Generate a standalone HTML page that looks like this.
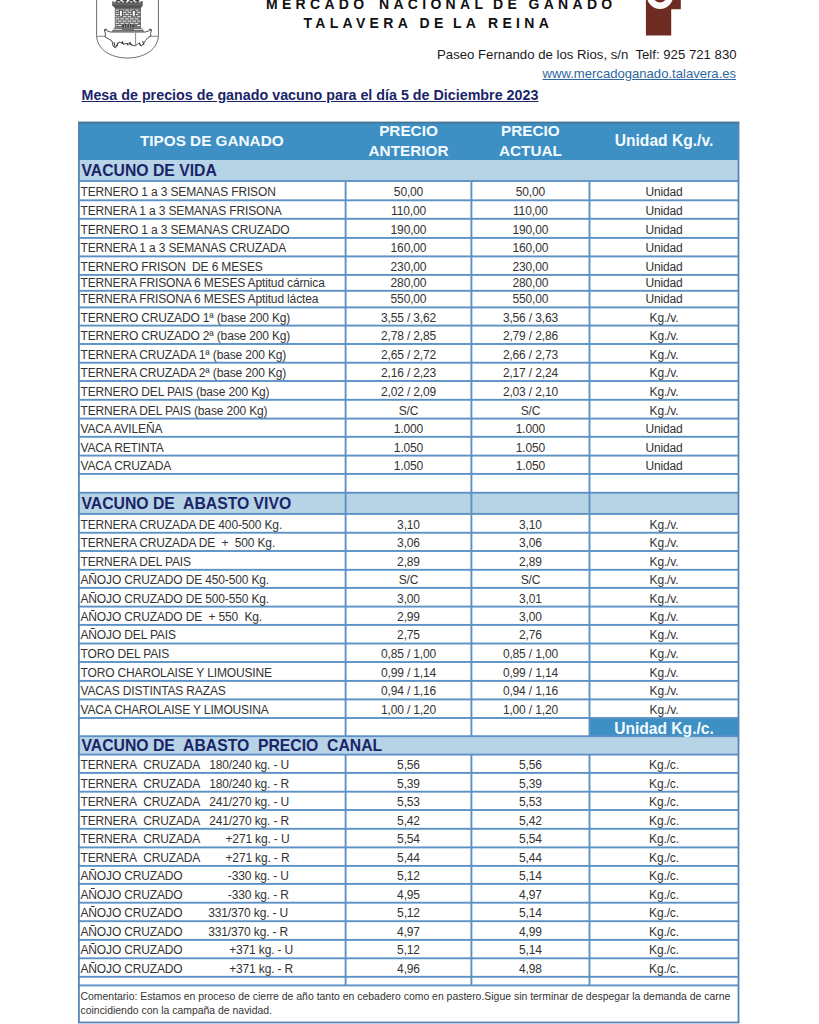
<!DOCTYPE html>
<html><head><meta charset="utf-8">
<style>
html,body{margin:0;padding:0;background:#fff;}
body{width:819px;height:1024px;position:relative;overflow:hidden;font-family:"Liberation Sans",sans-serif;}
#tb div{position:absolute;}
.t{font-size:12px;letter-spacing:-0.15px;line-height:15px;color:#333333;white-space:pre;}
.sec{font-size:15.75px;line-height:18px;font-weight:bold;color:#1a2468;white-space:pre;}
.hd{font-size:15.3px;line-height:18px;font-weight:bold;color:#f4fbff;white-space:pre;}
.hd2{font-size:15.6px;}
.cm{font-size:10.45px;line-height:13.5px;color:#333333;white-space:pre;}
.ab{position:absolute;white-space:pre;}
.ttl{position:absolute;white-space:pre;font-size:14px;line-height:18px;font-weight:bold;color:#111;letter-spacing:4.3px}
</style></head><body>
<svg style="position:absolute;left:90px;top:0" width="76" height="64" viewBox="90 0 76 64">
<path d="M96.6,0 V35.5 C97,49 110,58 127.5,58 C145,58 158,49 158.4,35.5 V0" fill="#fff" stroke="#6a6a6a" stroke-width="1"/>
<path d="M96.6,36.3 H105 M150,36.3 H158.4" stroke="#777" stroke-width="0.9"/>
<path d="M116.3,0 h4 v1.5 h-4z M122.8,0 h4 v1.5 h-4z M129.3,0 h4 v1.5 h-4z M135.2,0 h4 v1.5 h-4z" fill="#3a3a3a"/>
<path d="M112.2,1.2 H142.7 V5.3 L141,8 H114.8 L112.2,5.3 Z" fill="#555"/>
<path d="M113.6,1.2 h1.8 v1.3 h-1.8z M117.8,1.2 h1.8 v1.3 h-1.8z M122,1.2 h1.8 v1.3 h-1.8z M126.2,1.2 h1.8 v1.3 h-1.8z M130.4,1.2 h1.8 v1.3 h-1.8z M134.6,1.2 h1.8 v1.3 h-1.8z M138.8,1.2 h1.8 v1.3 h-1.8z" fill="#f4f4f4"/>
<path d="M113,4.2 H142" stroke="#888" stroke-width="0.6"/>
<rect x="114.8" y="8" width="26.2" height="19.5" fill="#6a6a6a"/>
<g fill="#ececec">
<rect x="115.6" y="9.6" width="3.6" height="1.05"/>
<rect x="120.4" y="9.6" width="3.6" height="1.05"/>
<rect x="125.2" y="9.6" width="3.6" height="1.05"/>
<rect x="130.0" y="9.6" width="3.6" height="1.05"/>
<rect x="134.8" y="9.6" width="3.6" height="1.05"/>
<rect x="115.6" y="11.8" width="1.2" height="1.05"/>
<rect x="118.0" y="11.8" width="3.6" height="1.05"/>
<rect x="122.8" y="11.8" width="3.6" height="1.05"/>
<rect x="127.6" y="11.8" width="3.6" height="1.05"/>
<rect x="132.4" y="11.8" width="3.6" height="1.05"/>
<rect x="137.2" y="11.8" width="3.1" height="1.05"/>
<rect x="115.6" y="14.0" width="3.6" height="1.05"/>
<rect x="120.4" y="14.0" width="3.6" height="1.05"/>
<rect x="125.2" y="14.0" width="3.6" height="1.05"/>
<rect x="130.0" y="14.0" width="3.6" height="1.05"/>
<rect x="134.8" y="14.0" width="3.6" height="1.05"/>
<rect x="115.6" y="16.2" width="1.2" height="1.05"/>
<rect x="118.0" y="16.2" width="3.6" height="1.05"/>
<rect x="122.8" y="16.2" width="3.6" height="1.05"/>
<rect x="127.6" y="16.2" width="3.6" height="1.05"/>
<rect x="132.4" y="16.2" width="3.6" height="1.05"/>
<rect x="137.2" y="16.2" width="3.1" height="1.05"/>
<rect x="115.6" y="18.4" width="3.6" height="1.05"/>
<rect x="120.4" y="18.4" width="3.6" height="1.05"/>
<rect x="125.2" y="18.4" width="3.6" height="1.05"/>
<rect x="130.0" y="18.4" width="3.6" height="1.05"/>
<rect x="134.8" y="18.4" width="3.6" height="1.05"/>
<rect x="115.6" y="20.6" width="1.2" height="1.05"/>
<rect x="118.0" y="20.6" width="3.6" height="1.05"/>
<rect x="122.8" y="20.6" width="3.6" height="1.05"/>
<rect x="127.6" y="20.6" width="3.6" height="1.05"/>
<rect x="132.4" y="20.6" width="3.6" height="1.05"/>
<rect x="137.2" y="20.6" width="3.1" height="1.05"/>
<rect x="115.6" y="22.8" width="3.6" height="1.05"/>
<rect x="120.4" y="22.8" width="3.6" height="1.05"/>
<rect x="125.2" y="22.8" width="3.6" height="1.05"/>
<rect x="130.0" y="22.8" width="3.6" height="1.05"/>
<rect x="134.8" y="22.8" width="3.6" height="1.05"/>
<rect x="115.6" y="25.0" width="1.2" height="1.05"/>
<rect x="118.0" y="25.0" width="3.6" height="1.05"/>
<rect x="137.2" y="25.0" width="3.1" height="1.05"/>
</g>
<rect x="118.9" y="10" width="3.9" height="6.6" fill="#444"/><rect x="131.8" y="10" width="3.9" height="6.6" fill="#444"/><rect x="119.8" y="10.8" width="2.1" height="5" fill="#fff"/>
<rect x="132.7" y="10.8" width="2.1" height="5" fill="#fff"/>
<path d="M122.2,31 V25.5 Q128,22.2 134,25.5 V31 Z" fill="#3a3a3a"/>
<path d="M124.6,24.8 V31 M127,24 V31 M129.4,24 V31 M131.8,24.8 V31" stroke="#cfcfcf" stroke-width="0.7"/>
<path d="M111.3,31.5 L114.8,27.3 H141 L144.5,31.5 Z" fill="#707070"/>
<path d="M113.2,29.5 H122 M134,29.5 H142.6" stroke="#e8e8e8" stroke-width="0.8"/>
<path d="M104.5,30.5 L106,28.8 L107,30.8 L110.5,32 H145.5 L149,30.8 L150,28.8 L151.5,30.5 L150.5,33.5 L151,36 L148,37.5 L145.5,40.5 L143,44.5 L141,46 L138.5,43 L135.5,46 L132,45 L128,43.5 L124,44 L119,42 L117,44.5 L115.5,48 L113,46 L112,41 L108,38.5 L105,37 L105.5,34 Z" fill="#fff" stroke="#3a3a3a" stroke-width="0.9" stroke-linejoin="round"/>
<path d="M135.6,33 V45" stroke="#555" stroke-width="0.7"/>
<path d="M114,42 l1,5 M118,42.5 l-1,4 M122,42.5 l1.5,2 M127,43 l1,2.5 M131,43.5 l1,2 M139.5,42.5 l1,3.5 M142.5,41 l1.5,4" stroke="#333" stroke-width="1"/>
<circle cx="122.5" cy="42.2" r="0.9" fill="#333"/>
<circle cx="130" cy="43" r="0.9" fill="#333"/>
<path d="M104,29.5 l1.5,1 M151.5,29.5 l-1.5,1" stroke="#222" stroke-width="1"/>
</svg>
<svg style="position:absolute;left:640px;top:0" width="48" height="40" viewBox="640 0 48 40">
<path d="M645.9,0 H680.8 V9.2 H671.2 V35.6 H645.9 Z" fill="#6d2b22"/>
<circle cx="660" cy="-4.3" r="10" fill="none" stroke="#fdfdfd" stroke-width="6.4"/>
</svg>
<div class="ttl" style="left:266px;top:-5px">MERCADO</div>
<div class="ttl" style="left:379px;top:-5px">NACIONAL</div>
<div class="ttl" style="left:493px;top:-5px">DE</div>
<div class="ttl" style="left:528.5px;top:-5px">GANADO</div>
<div class="ttl" style="left:303.5px;top:13.5px">TALAVERA</div>
<div class="ttl" style="left:419.5px;top:13.5px">DE</div>
<div class="ttl" style="left:453px;top:13.5px">LA</div>
<div class="ttl" style="left:488px;top:13.5px">REINA</div>
<div class="ab" style="left:437px;top:46.5px;font-size:13.2px;line-height:16px;color:#1a1a1a">Paseo Fernando de los Rios, s/n&nbsp; Telf: 925 721 830</div>
<div class="ab" style="left:542.5px;top:66px;font-size:13.1px;line-height:16px;color:#2f67a0;text-decoration:underline">www.mercadoganado.talavera.es</div>
<div class="ab" style="left:81.5px;top:86.5px;font-size:14.3px;line-height:17px;font-weight:bold;color:#1a2468;text-decoration:underline">Mesa de precios de ganado vacuno para el día 5 de Diciembre 2023</div>
<div id="tb">
<svg style="position:absolute;left:0;top:0" width="819" height="1024" viewBox="0 0 819 1024"><rect x="78.00" y="122.50" width="660.50" height="37.80" fill="#3d8fc4"/><rect x="78.00" y="160.30" width="660.50" height="20.70" fill="#b7d3e6"/><rect x="78.00" y="492.75" width="660.50" height="21.15" fill="#b7d3e6"/><rect x="78.00" y="736.20" width="660.50" height="18.40" fill="#b7d3e6"/><rect x="589.50" y="718.00" width="149.00" height="18.20" fill="#3d8fc4"/><rect x="78.00" y="180.05" width="660.50" height="1.90" fill="#5c92c6"/><rect x="78.00" y="199.35" width="660.50" height="1.90" fill="#5c92c6"/><rect x="78.00" y="217.85" width="660.50" height="1.90" fill="#5c92c6"/><rect x="78.00" y="236.95" width="660.50" height="1.90" fill="#5c92c6"/><rect x="78.00" y="255.45" width="660.50" height="1.90" fill="#5c92c6"/><rect x="78.00" y="273.95" width="660.50" height="1.90" fill="#5c92c6"/><rect x="78.00" y="289.85" width="660.50" height="1.90" fill="#5c92c6"/><rect x="78.00" y="306.45" width="660.50" height="1.90" fill="#5c92c6"/><rect x="78.00" y="324.65" width="660.50" height="1.90" fill="#5c92c6"/><rect x="78.00" y="343.05" width="660.50" height="1.90" fill="#5c92c6"/><rect x="78.00" y="361.75" width="660.50" height="1.90" fill="#5c92c6"/><rect x="78.00" y="380.05" width="660.50" height="1.90" fill="#5c92c6"/><rect x="78.00" y="398.85" width="660.50" height="1.90" fill="#5c92c6"/><rect x="78.00" y="417.65" width="660.50" height="1.90" fill="#5c92c6"/><rect x="78.00" y="435.85" width="660.50" height="1.90" fill="#5c92c6"/><rect x="78.00" y="454.65" width="660.50" height="1.90" fill="#5c92c6"/><rect x="78.00" y="472.95" width="660.50" height="1.90" fill="#5c92c6"/><rect x="78.00" y="491.80" width="660.50" height="1.90" fill="#5c92c6"/><rect x="78.00" y="512.95" width="660.50" height="1.90" fill="#5c92c6"/><rect x="78.00" y="531.80" width="660.50" height="1.90" fill="#5c92c6"/><rect x="78.00" y="550.05" width="660.50" height="1.90" fill="#5c92c6"/><rect x="78.00" y="568.85" width="660.50" height="1.90" fill="#5c92c6"/><rect x="78.00" y="586.95" width="660.50" height="1.90" fill="#5c92c6"/><rect x="78.00" y="605.65" width="660.50" height="1.90" fill="#5c92c6"/><rect x="78.00" y="623.95" width="660.50" height="1.90" fill="#5c92c6"/><rect x="78.00" y="642.55" width="660.50" height="1.90" fill="#5c92c6"/><rect x="78.00" y="661.05" width="660.50" height="1.90" fill="#5c92c6"/><rect x="78.00" y="679.95" width="660.50" height="1.90" fill="#5c92c6"/><rect x="78.00" y="698.45" width="660.50" height="1.90" fill="#5c92c6"/><rect x="78.00" y="717.05" width="660.50" height="1.90" fill="#5c92c6"/><rect x="78.00" y="735.25" width="660.50" height="1.90" fill="#5c92c6"/><rect x="78.00" y="753.65" width="660.50" height="1.90" fill="#5c92c6"/><rect x="78.00" y="771.95" width="660.50" height="1.90" fill="#5c92c6"/><rect x="78.00" y="790.75" width="660.50" height="1.90" fill="#5c92c6"/><rect x="78.00" y="809.05" width="660.50" height="1.90" fill="#5c92c6"/><rect x="78.00" y="827.85" width="660.50" height="1.90" fill="#5c92c6"/><rect x="78.00" y="846.45" width="660.50" height="1.90" fill="#5c92c6"/><rect x="78.00" y="864.95" width="660.50" height="1.90" fill="#5c92c6"/><rect x="78.00" y="882.95" width="660.50" height="1.90" fill="#5c92c6"/><rect x="78.00" y="901.75" width="660.50" height="1.90" fill="#5c92c6"/><rect x="78.00" y="920.25" width="660.50" height="1.90" fill="#5c92c6"/><rect x="78.00" y="938.95" width="660.50" height="1.90" fill="#5c92c6"/><rect x="78.00" y="957.35" width="660.50" height="1.90" fill="#5c92c6"/><rect x="78.00" y="975.85" width="660.50" height="1.90" fill="#5c92c6"/><rect x="78.00" y="984.45" width="660.50" height="1.90" fill="#5c92c6"/><rect x="344.65" y="181.00" width="1.90" height="311.75" fill="#5c92c6"/><rect x="344.65" y="492.75" width="1.90" height="243.45" fill="#5c92c6"/><rect x="344.65" y="754.60" width="1.90" height="230.80" fill="#5c92c6"/><rect x="470.45" y="181.00" width="1.90" height="311.75" fill="#5c92c6"/><rect x="470.45" y="492.75" width="1.90" height="243.45" fill="#5c92c6"/><rect x="470.45" y="754.60" width="1.90" height="230.80" fill="#5c92c6"/><rect x="588.55" y="181.00" width="1.90" height="311.75" fill="#5c92c6"/><rect x="588.55" y="492.75" width="1.90" height="243.45" fill="#5c92c6"/><rect x="588.55" y="754.60" width="1.90" height="230.80" fill="#5c92c6"/><rect x="78.00" y="122.50" width="1.80" height="900.00" fill="#5585b5"/><rect x="737.60" y="122.50" width="1.80" height="900.00" fill="#5585b5"/><rect x="78.00" y="121.60" width="661.40" height="1.80" fill="#4a7590"/><rect x="78.00" y="1021.60" width="661.40" height="1.80" fill="#5585b5"/></svg>
<div class="t" style="left:80.50px;top:185.20px">TERNERO 1 a 3 SEMANAS FRISON</div>
<div class="t" style="left:258.50px;top:185.20px;width:300px;text-align:center">50,00</div>
<div class="t" style="left:380.45px;top:185.20px;width:300px;text-align:center">50,00</div>
<div class="t" style="left:514.00px;top:185.20px;width:300px;text-align:center">Unidad</div>
<div class="t" style="left:80.50px;top:203.70px">TERNERA 1 a 3 SEMANAS FRISONA</div>
<div class="t" style="left:258.50px;top:203.70px;width:300px;text-align:center">110,00</div>
<div class="t" style="left:380.45px;top:203.70px;width:300px;text-align:center">110,00</div>
<div class="t" style="left:514.00px;top:203.70px;width:300px;text-align:center">Unidad</div>
<div class="t" style="left:80.50px;top:222.80px">TERNERO 1 a 3 SEMANAS CRUZADO</div>
<div class="t" style="left:258.50px;top:222.80px;width:300px;text-align:center">190,00</div>
<div class="t" style="left:380.45px;top:222.80px;width:300px;text-align:center">190,00</div>
<div class="t" style="left:514.00px;top:222.80px;width:300px;text-align:center">Unidad</div>
<div class="t" style="left:80.50px;top:241.30px">TERNERA 1 a 3 SEMANAS CRUZADA</div>
<div class="t" style="left:258.50px;top:241.30px;width:300px;text-align:center">160,00</div>
<div class="t" style="left:380.45px;top:241.30px;width:300px;text-align:center">160,00</div>
<div class="t" style="left:514.00px;top:241.30px;width:300px;text-align:center">Unidad</div>
<div class="t" style="left:80.50px;top:259.80px">TERNERO FRISON&nbsp; DE 6 MESES</div>
<div class="t" style="left:258.50px;top:259.80px;width:300px;text-align:center">230,00</div>
<div class="t" style="left:380.45px;top:259.80px;width:300px;text-align:center">230,00</div>
<div class="t" style="left:514.00px;top:259.80px;width:300px;text-align:center">Unidad</div>
<div class="t" style="left:80.50px;top:275.70px">TERNERA FRISONA 6 MESES Aptitud cárnica</div>
<div class="t" style="left:258.50px;top:275.70px;width:300px;text-align:center">280,00</div>
<div class="t" style="left:380.45px;top:275.70px;width:300px;text-align:center">280,00</div>
<div class="t" style="left:514.00px;top:275.70px;width:300px;text-align:center">Unidad</div>
<div class="t" style="left:80.50px;top:292.30px">TERNERA FRISONA 6 MESES Aptitud láctea</div>
<div class="t" style="left:258.50px;top:292.30px;width:300px;text-align:center">550,00</div>
<div class="t" style="left:380.45px;top:292.30px;width:300px;text-align:center">550,00</div>
<div class="t" style="left:514.00px;top:292.30px;width:300px;text-align:center">Unidad</div>
<div class="t" style="left:80.50px;top:310.50px">TERNERO CRUZADO 1ª (base 200 Kg)</div>
<div class="t" style="left:258.50px;top:310.50px;width:300px;text-align:center">3,55 / 3,62</div>
<div class="t" style="left:380.45px;top:310.50px;width:300px;text-align:center">3,56 / 3,63</div>
<div class="t" style="left:514.00px;top:310.50px;width:300px;text-align:center">Kg./v.</div>
<div class="t" style="left:80.50px;top:328.90px">TERNERO CRUZADO 2ª (base 200 Kg)</div>
<div class="t" style="left:258.50px;top:328.90px;width:300px;text-align:center">2,78 / 2,85</div>
<div class="t" style="left:380.45px;top:328.90px;width:300px;text-align:center">2,79 / 2,86</div>
<div class="t" style="left:514.00px;top:328.90px;width:300px;text-align:center">Kg./v.</div>
<div class="t" style="left:80.50px;top:347.60px">TERNERA CRUZADA 1ª (base 200 Kg)</div>
<div class="t" style="left:258.50px;top:347.60px;width:300px;text-align:center">2,65 / 2,72</div>
<div class="t" style="left:380.45px;top:347.60px;width:300px;text-align:center">2,66 / 2,73</div>
<div class="t" style="left:514.00px;top:347.60px;width:300px;text-align:center">Kg./v.</div>
<div class="t" style="left:80.50px;top:365.90px">TERNERA CRUZADA 2ª (base 200 Kg)</div>
<div class="t" style="left:258.50px;top:365.90px;width:300px;text-align:center">2,16 / 2,23</div>
<div class="t" style="left:380.45px;top:365.90px;width:300px;text-align:center">2,17 / 2,24</div>
<div class="t" style="left:514.00px;top:365.90px;width:300px;text-align:center">Kg./v.</div>
<div class="t" style="left:80.50px;top:384.70px">TERNERO DEL PAIS (base 200 Kg)</div>
<div class="t" style="left:258.50px;top:384.70px;width:300px;text-align:center">2,02 / 2,09</div>
<div class="t" style="left:380.45px;top:384.70px;width:300px;text-align:center">2,03 / 2,10</div>
<div class="t" style="left:514.00px;top:384.70px;width:300px;text-align:center">Kg./v.</div>
<div class="t" style="left:80.50px;top:403.50px">TERNERA DEL PAIS (base 200 Kg)</div>
<div class="t" style="left:258.50px;top:403.50px;width:300px;text-align:center">S/C</div>
<div class="t" style="left:380.45px;top:403.50px;width:300px;text-align:center">S/C</div>
<div class="t" style="left:514.00px;top:403.50px;width:300px;text-align:center">Kg./v.</div>
<div class="t" style="left:80.50px;top:421.70px">VACA AVILEÑA</div>
<div class="t" style="left:258.50px;top:421.70px;width:300px;text-align:center">1.000</div>
<div class="t" style="left:380.45px;top:421.70px;width:300px;text-align:center">1.000</div>
<div class="t" style="left:514.00px;top:421.70px;width:300px;text-align:center">Unidad</div>
<div class="t" style="left:80.50px;top:440.50px">VACA RETINTA</div>
<div class="t" style="left:258.50px;top:440.50px;width:300px;text-align:center">1.050</div>
<div class="t" style="left:380.45px;top:440.50px;width:300px;text-align:center">1.050</div>
<div class="t" style="left:514.00px;top:440.50px;width:300px;text-align:center">Unidad</div>
<div class="t" style="left:80.50px;top:458.80px">VACA CRUZADA</div>
<div class="t" style="left:258.50px;top:458.80px;width:300px;text-align:center">1.050</div>
<div class="t" style="left:380.45px;top:458.80px;width:300px;text-align:center">1.050</div>
<div class="t" style="left:514.00px;top:458.80px;width:300px;text-align:center">Unidad</div>
<div class="t" style="left:80.50px;top:477.65px"></div>
<div class="t" style="left:258.50px;top:477.65px;width:300px;text-align:center"></div>
<div class="t" style="left:380.45px;top:477.65px;width:300px;text-align:center"></div>
<div class="t" style="left:514.00px;top:477.65px;width:300px;text-align:center"></div>
<div class="t" style="left:80.50px;top:517.65px">TERNERA CRUZADA DE 400-500 Kg.</div>
<div class="t" style="left:258.50px;top:517.65px;width:300px;text-align:center">3,10</div>
<div class="t" style="left:380.45px;top:517.65px;width:300px;text-align:center">3,10</div>
<div class="t" style="left:514.00px;top:517.65px;width:300px;text-align:center">Kg./v.</div>
<div class="t" style="left:80.50px;top:535.90px">TERNERA CRUZADA DE&nbsp; +&nbsp; 500 Kg.</div>
<div class="t" style="left:258.50px;top:535.90px;width:300px;text-align:center">3,06</div>
<div class="t" style="left:380.45px;top:535.90px;width:300px;text-align:center">3,06</div>
<div class="t" style="left:514.00px;top:535.90px;width:300px;text-align:center">Kg./v.</div>
<div class="t" style="left:80.50px;top:554.70px">TERNERA DEL PAIS</div>
<div class="t" style="left:258.50px;top:554.70px;width:300px;text-align:center">2,89</div>
<div class="t" style="left:380.45px;top:554.70px;width:300px;text-align:center">2,89</div>
<div class="t" style="left:514.00px;top:554.70px;width:300px;text-align:center">Kg./v.</div>
<div class="t" style="left:80.50px;top:572.80px">AÑOJO CRUZADO DE 450-500 Kg.</div>
<div class="t" style="left:258.50px;top:572.80px;width:300px;text-align:center">S/C</div>
<div class="t" style="left:380.45px;top:572.80px;width:300px;text-align:center">S/C</div>
<div class="t" style="left:514.00px;top:572.80px;width:300px;text-align:center">Kg./v.</div>
<div class="t" style="left:80.50px;top:591.50px">AÑOJO CRUZADO DE 500-550 Kg.</div>
<div class="t" style="left:258.50px;top:591.50px;width:300px;text-align:center">3,00</div>
<div class="t" style="left:380.45px;top:591.50px;width:300px;text-align:center">3,01</div>
<div class="t" style="left:514.00px;top:591.50px;width:300px;text-align:center">Kg./v.</div>
<div class="t" style="left:80.50px;top:609.80px">AÑOJO CRUZADO DE&nbsp; + 550&nbsp; Kg.</div>
<div class="t" style="left:258.50px;top:609.80px;width:300px;text-align:center">2,99</div>
<div class="t" style="left:380.45px;top:609.80px;width:300px;text-align:center">3,00</div>
<div class="t" style="left:514.00px;top:609.80px;width:300px;text-align:center">Kg./v.</div>
<div class="t" style="left:80.50px;top:628.40px">AÑOJO DEL PAIS</div>
<div class="t" style="left:258.50px;top:628.40px;width:300px;text-align:center">2,75</div>
<div class="t" style="left:380.45px;top:628.40px;width:300px;text-align:center">2,76</div>
<div class="t" style="left:514.00px;top:628.40px;width:300px;text-align:center">Kg./v.</div>
<div class="t" style="left:80.50px;top:646.90px">TORO DEL PAIS</div>
<div class="t" style="left:258.50px;top:646.90px;width:300px;text-align:center">0,85 / 1,00</div>
<div class="t" style="left:380.45px;top:646.90px;width:300px;text-align:center">0,85 / 1,00</div>
<div class="t" style="left:514.00px;top:646.90px;width:300px;text-align:center">Kg./v.</div>
<div class="t" style="left:80.50px;top:665.80px">TORO CHAROLAISE Y LIMOUSINE</div>
<div class="t" style="left:258.50px;top:665.80px;width:300px;text-align:center">0,99 / 1,14</div>
<div class="t" style="left:380.45px;top:665.80px;width:300px;text-align:center">0,99 / 1,14</div>
<div class="t" style="left:514.00px;top:665.80px;width:300px;text-align:center">Kg./v.</div>
<div class="t" style="left:80.50px;top:684.30px">VACAS DISTINTAS RAZAS</div>
<div class="t" style="left:258.50px;top:684.30px;width:300px;text-align:center">0,94 / 1,16</div>
<div class="t" style="left:380.45px;top:684.30px;width:300px;text-align:center">0,94 / 1,16</div>
<div class="t" style="left:514.00px;top:684.30px;width:300px;text-align:center">Kg./v.</div>
<div class="t" style="left:80.50px;top:702.90px">VACA CHAROLAISE Y LIMOUSINA</div>
<div class="t" style="left:258.50px;top:702.90px;width:300px;text-align:center">1,00 / 1,20</div>
<div class="t" style="left:380.45px;top:702.90px;width:300px;text-align:center">1,00 / 1,20</div>
<div class="t" style="left:514.00px;top:702.90px;width:300px;text-align:center">Kg./v.</div>
<div class="t" style="left:80.50px;top:721.10px"></div>
<div class="t" style="left:258.50px;top:721.10px;width:300px;text-align:center"></div>
<div class="t" style="left:380.45px;top:721.10px;width:300px;text-align:center"></div>
<div class="t" style="left:514.00px;top:721.10px;width:300px;text-align:center"></div>
<div class="t" style="left:80.50px;top:757.80px">TERNERA&nbsp; CRUZADA</div>
<div class="t" style="left:209.20px;top:757.80px">180/240 kg. - U</div>
<div class="t" style="left:258.50px;top:757.80px;width:300px;text-align:center">5,56</div>
<div class="t" style="left:380.45px;top:757.80px;width:300px;text-align:center">5,56</div>
<div class="t" style="left:514.00px;top:757.80px;width:300px;text-align:center">Kg./c.</div>
<div class="t" style="left:80.50px;top:776.60px">TERNERA&nbsp; CRUZADA</div>
<div class="t" style="left:209.20px;top:776.60px">180/240 kg. - R</div>
<div class="t" style="left:258.50px;top:776.60px;width:300px;text-align:center">5,39</div>
<div class="t" style="left:380.45px;top:776.60px;width:300px;text-align:center">5,39</div>
<div class="t" style="left:514.00px;top:776.60px;width:300px;text-align:center">Kg./c.</div>
<div class="t" style="left:80.50px;top:794.90px">TERNERA&nbsp; CRUZADA</div>
<div class="t" style="left:209.20px;top:794.90px">241/270 kg. - U</div>
<div class="t" style="left:258.50px;top:794.90px;width:300px;text-align:center">5,53</div>
<div class="t" style="left:380.45px;top:794.90px;width:300px;text-align:center">5,53</div>
<div class="t" style="left:514.00px;top:794.90px;width:300px;text-align:center">Kg./c.</div>
<div class="t" style="left:80.50px;top:813.70px">TERNERA&nbsp; CRUZADA</div>
<div class="t" style="left:209.20px;top:813.70px">241/270 kg. - R</div>
<div class="t" style="left:258.50px;top:813.70px;width:300px;text-align:center">5,42</div>
<div class="t" style="left:380.45px;top:813.70px;width:300px;text-align:center">5,42</div>
<div class="t" style="left:514.00px;top:813.70px;width:300px;text-align:center">Kg./c.</div>
<div class="t" style="left:80.50px;top:832.30px">TERNERA&nbsp; CRUZADA</div>
<div class="t" style="left:225.50px;top:832.30px">+271 kg. - U</div>
<div class="t" style="left:258.50px;top:832.30px;width:300px;text-align:center">5,54</div>
<div class="t" style="left:380.45px;top:832.30px;width:300px;text-align:center">5,54</div>
<div class="t" style="left:514.00px;top:832.30px;width:300px;text-align:center">Kg./c.</div>
<div class="t" style="left:80.50px;top:850.80px">TERNERA&nbsp; CRUZADA</div>
<div class="t" style="left:225.50px;top:850.80px">+271 kg. - R</div>
<div class="t" style="left:258.50px;top:850.80px;width:300px;text-align:center">5,44</div>
<div class="t" style="left:380.45px;top:850.80px;width:300px;text-align:center">5,44</div>
<div class="t" style="left:514.00px;top:850.80px;width:300px;text-align:center">Kg./c.</div>
<div class="t" style="left:80.50px;top:868.80px">AÑOJO CRUZADO</div>
<div class="t" style="left:227.80px;top:868.80px">-330 kg. - U</div>
<div class="t" style="left:258.50px;top:868.80px;width:300px;text-align:center">5,12</div>
<div class="t" style="left:380.45px;top:868.80px;width:300px;text-align:center">5,14</div>
<div class="t" style="left:514.00px;top:868.80px;width:300px;text-align:center">Kg./c.</div>
<div class="t" style="left:80.50px;top:887.60px">AÑOJO CRUZADO</div>
<div class="t" style="left:227.80px;top:887.60px">-330 kg. - R</div>
<div class="t" style="left:258.50px;top:887.60px;width:300px;text-align:center">4,95</div>
<div class="t" style="left:380.45px;top:887.60px;width:300px;text-align:center">4,97</div>
<div class="t" style="left:514.00px;top:887.60px;width:300px;text-align:center">Kg./c.</div>
<div class="t" style="left:80.50px;top:906.10px">AÑOJO CRUZADO</div>
<div class="t" style="left:208.30px;top:906.10px">331/370 kg. - U</div>
<div class="t" style="left:258.50px;top:906.10px;width:300px;text-align:center">5,12</div>
<div class="t" style="left:380.45px;top:906.10px;width:300px;text-align:center">5,14</div>
<div class="t" style="left:514.00px;top:906.10px;width:300px;text-align:center">Kg./c.</div>
<div class="t" style="left:80.50px;top:924.80px">AÑOJO CRUZADO</div>
<div class="t" style="left:208.30px;top:924.80px">331/370 kg. - R</div>
<div class="t" style="left:258.50px;top:924.80px;width:300px;text-align:center">4,97</div>
<div class="t" style="left:380.45px;top:924.80px;width:300px;text-align:center">4,99</div>
<div class="t" style="left:514.00px;top:924.80px;width:300px;text-align:center">Kg./c.</div>
<div class="t" style="left:80.50px;top:943.20px">AÑOJO CRUZADO</div>
<div class="t" style="left:229.20px;top:943.20px">+371 kg. - U</div>
<div class="t" style="left:258.50px;top:943.20px;width:300px;text-align:center">5,12</div>
<div class="t" style="left:380.45px;top:943.20px;width:300px;text-align:center">5,14</div>
<div class="t" style="left:514.00px;top:943.20px;width:300px;text-align:center">Kg./c.</div>
<div class="t" style="left:80.50px;top:961.70px">AÑOJO CRUZADO</div>
<div class="t" style="left:229.20px;top:961.70px">+371 kg. - R</div>
<div class="t" style="left:258.50px;top:961.70px;width:300px;text-align:center">4,96</div>
<div class="t" style="left:380.45px;top:961.70px;width:300px;text-align:center">4,98</div>
<div class="t" style="left:514.00px;top:961.70px;width:300px;text-align:center">Kg./c.</div>
<div class="sec" style="left:81.50px;top:162.10px">VACUNO DE VIDA</div>
<div class="sec" style="left:81.50px;top:495.10px">VACUNO DE&nbsp; ABASTO VIVO</div>
<div class="sec" style="left:81.50px;top:737.00px">VACUNO DE&nbsp; ABASTO&nbsp; PRECIO&nbsp; CANAL</div>
<div class="hd" style="left:61.80px;top:132.00px;width:300px;text-align:center">TIPOS DE GANADO</div>
<div class="hd" style="left:258.50px;top:122.30px;width:300px;text-align:center">PRECIO</div>
<div class="hd" style="left:258.50px;top:142.10px;width:300px;text-align:center">ANTERIOR</div>
<div class="hd" style="left:380.45px;top:122.30px;width:300px;text-align:center">PRECIO</div>
<div class="hd" style="left:380.45px;top:142.10px;width:300px;text-align:center">ACTUAL</div>
<div class="hd hd2" style="left:514.00px;top:132.00px;width:300px;text-align:center">Unidad Kg./v.</div>
<div class="hd hd2" style="left:514.00px;top:719.50px;width:300px;text-align:center">Unidad Kg./c.</div>
<div class="cm" style="left:80.5px;top:990px">Comentario: Estamos en proceso de cierre de año tanto en cebadero como en pastero.Sigue sin terminar de despegar la demanda de carne<br>coincidiendo con la campaña de navidad.</div>
</div>
</body></html>
